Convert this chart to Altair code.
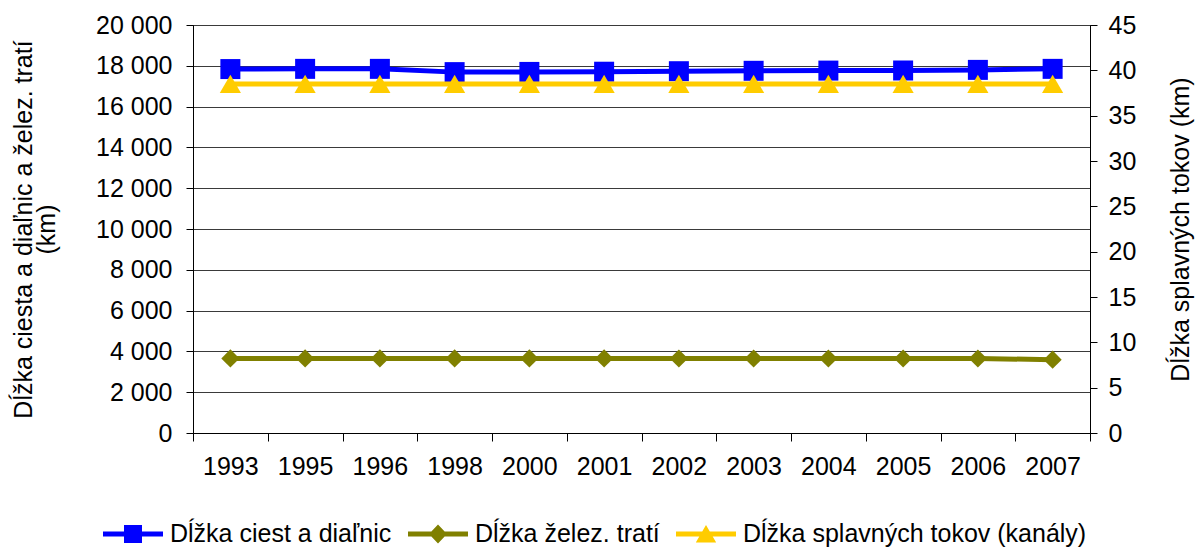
import altair as alt
import pandas as pd

# Length of transport networks by year
years = ["1993", "1995", "1996", "1998", "2000", "2001",
         "2002", "2003", "2004", "2005", "2006", "2007"]
roads = [17840, 17850, 17850, 17690, 17700, 17710,
         17735, 17755, 17765, 17770, 17800, 17850]
rail = [3655, 3655, 3655, 3655, 3655, 3655,
        3650, 3650, 3650, 3650, 3650, 3595]
waterways = [38.5, 38.5, 38.5, 38.5, 38.5, 38.5,
             38.5, 38.5, 38.5, 38.5, 38.5, 38.5]

series_names = ["Dĺžka ciest a diaľnic", "Dĺžka želez. tratí",
                "Dĺžka splavných tokov (kanály)"]
series_colors = ["#0000FF", "#808000", "#FFCC00"]
# legend glyphs: a line with the series marker on top (unit coordinates)
legend_paths = [
    "M-1,-0.08L1,-0.08L1,0.08L-1,0.08Z M-0.3,-0.3L0.3,-0.3L0.3,0.3L-0.3,0.3Z",
    "M-1,-0.08L1,-0.08L1,0.08L-1,0.08Z M0,-0.32L0.3,0L0,0.32L-0.3,0Z",
    "M-1,-0.08L1,-0.08L1,0.08L-1,0.08Z M0,-0.3L0.34,0.28L-0.34,0.28Z",
]

df = pd.DataFrame({"year": years, "roads": roads, "rail": rail, "water": waterways})
legend_df = pd.DataFrame({"series": series_names})

FONT = "Liberation Sans"
FS = 25

x_enc = alt.X(
    "year:O", sort=years, bandPosition=0.5, title=None,
    scale=alt.Scale(type="band", paddingInner=0, paddingOuter=0),
    axis=alt.Axis(labelAngle=0, tickBand="extent", tickSize=8, labelPadding=13,
                  domainColor="black", tickColor="black", labelColor="black",
                  labelFontSize=FS, grid=False),
)

left_axis = alt.Axis(
    values=list(range(0, 20001, 2000)),
    labelExpr="replace(format(datum.value, ',d'), ',', ' ')",
    title=["Dĺžka ciesta a diaľnic a želez. tratí", "(km)"],
    titleFontSize=FS, titleFontWeight="normal", titleColor="black",
    titlePadding=36, titleLineHeight=23,
    labelFontSize=FS, labelColor="black", labelPadding=14, tickSize=7,
    domainColor="black", tickColor="black",
    grid=True, gridColor="#3a3a3a", gridWidth=1,
)
left_scale = alt.Scale(domain=[0, 20000], nice=False, zero=True)

roads_line = alt.Chart(df).mark_line(
    color=series_colors[0], strokeWidth=5,
    point=alt.OverlayMarkDef(shape="square", size=400, filled=True,
                             color=series_colors[0], opacity=1),
).encode(x=x_enc, y=alt.Y("roads:Q", scale=left_scale, axis=left_axis))

rail_line = alt.Chart(df).mark_line(
    color=series_colors[1], strokeWidth=5,
    point=alt.OverlayMarkDef(shape="diamond", size=330, filled=True,
                             color=series_colors[1], opacity=1),
).encode(x=x_enc, y=alt.Y("rail:Q", scale=left_scale, axis=left_axis))

right_axis = alt.Axis(
    orient="right", values=list(range(0, 46, 5)),
    title="Dĺžka splavných tokov (km)", titleAngle=270,
    titleFontSize=FS, titleFontWeight="normal", titleColor="black",
    titlePadding=58,
    labelFontSize=FS, labelColor="black", labelPadding=11, tickSize=7,
    domainColor="black", tickColor="black", grid=False,
)

water_line = alt.Chart(df).mark_line(
    color=series_colors[2], strokeWidth=5,
    point=alt.OverlayMarkDef(shape="triangle-up", size=450, filled=True,
                             color=series_colors[2], opacity=1),
).encode(
    x=x_enc,
    y=alt.Y("water:Q", scale=alt.Scale(domain=[0, 45], nice=False), axis=right_axis),
)

legend_props = dict(
    title=None, orient="none", direction="horizontal",
    legendX=-90, legendY=479,
    labelFontSize=FS, labelColor="black", labelFont=FONT,
    labelLimit=0, labelOffset=7, columnPadding=16,
    symbolSize=3600, symbolStrokeWidth=0, symbolOpacity=1,
)

# legend-only layer: no marks are drawn, the scales carry the entries
legend_layer = alt.Chart(legend_df).mark_point(filled=True, opacity=1).encode(
    color=alt.Color("series:N", scale=alt.Scale(domain=series_names, range=series_colors),
                    legend=alt.Legend(**legend_props)),
    shape=alt.Shape("series:N", scale=alt.Scale(domain=series_names, range=legend_paths),
                    legend=alt.Legend(**legend_props)),
).transform_filter("false")

chart = alt.layer(
    alt.layer(roads_line, rail_line),
    water_line,
    legend_layer,
).resolve_scale(y="independent").properties(
    width=897, height=408,
    autosize=alt.AutoSizeParams(type="none"),
    padding={"left": 193, "top": 25, "right": 110, "bottom": 114},
).configure(font=FONT).configure_view(stroke="black", strokeWidth=1)

chart.save("out.html", embed_options={"renderer": "svg", "actions": False})
